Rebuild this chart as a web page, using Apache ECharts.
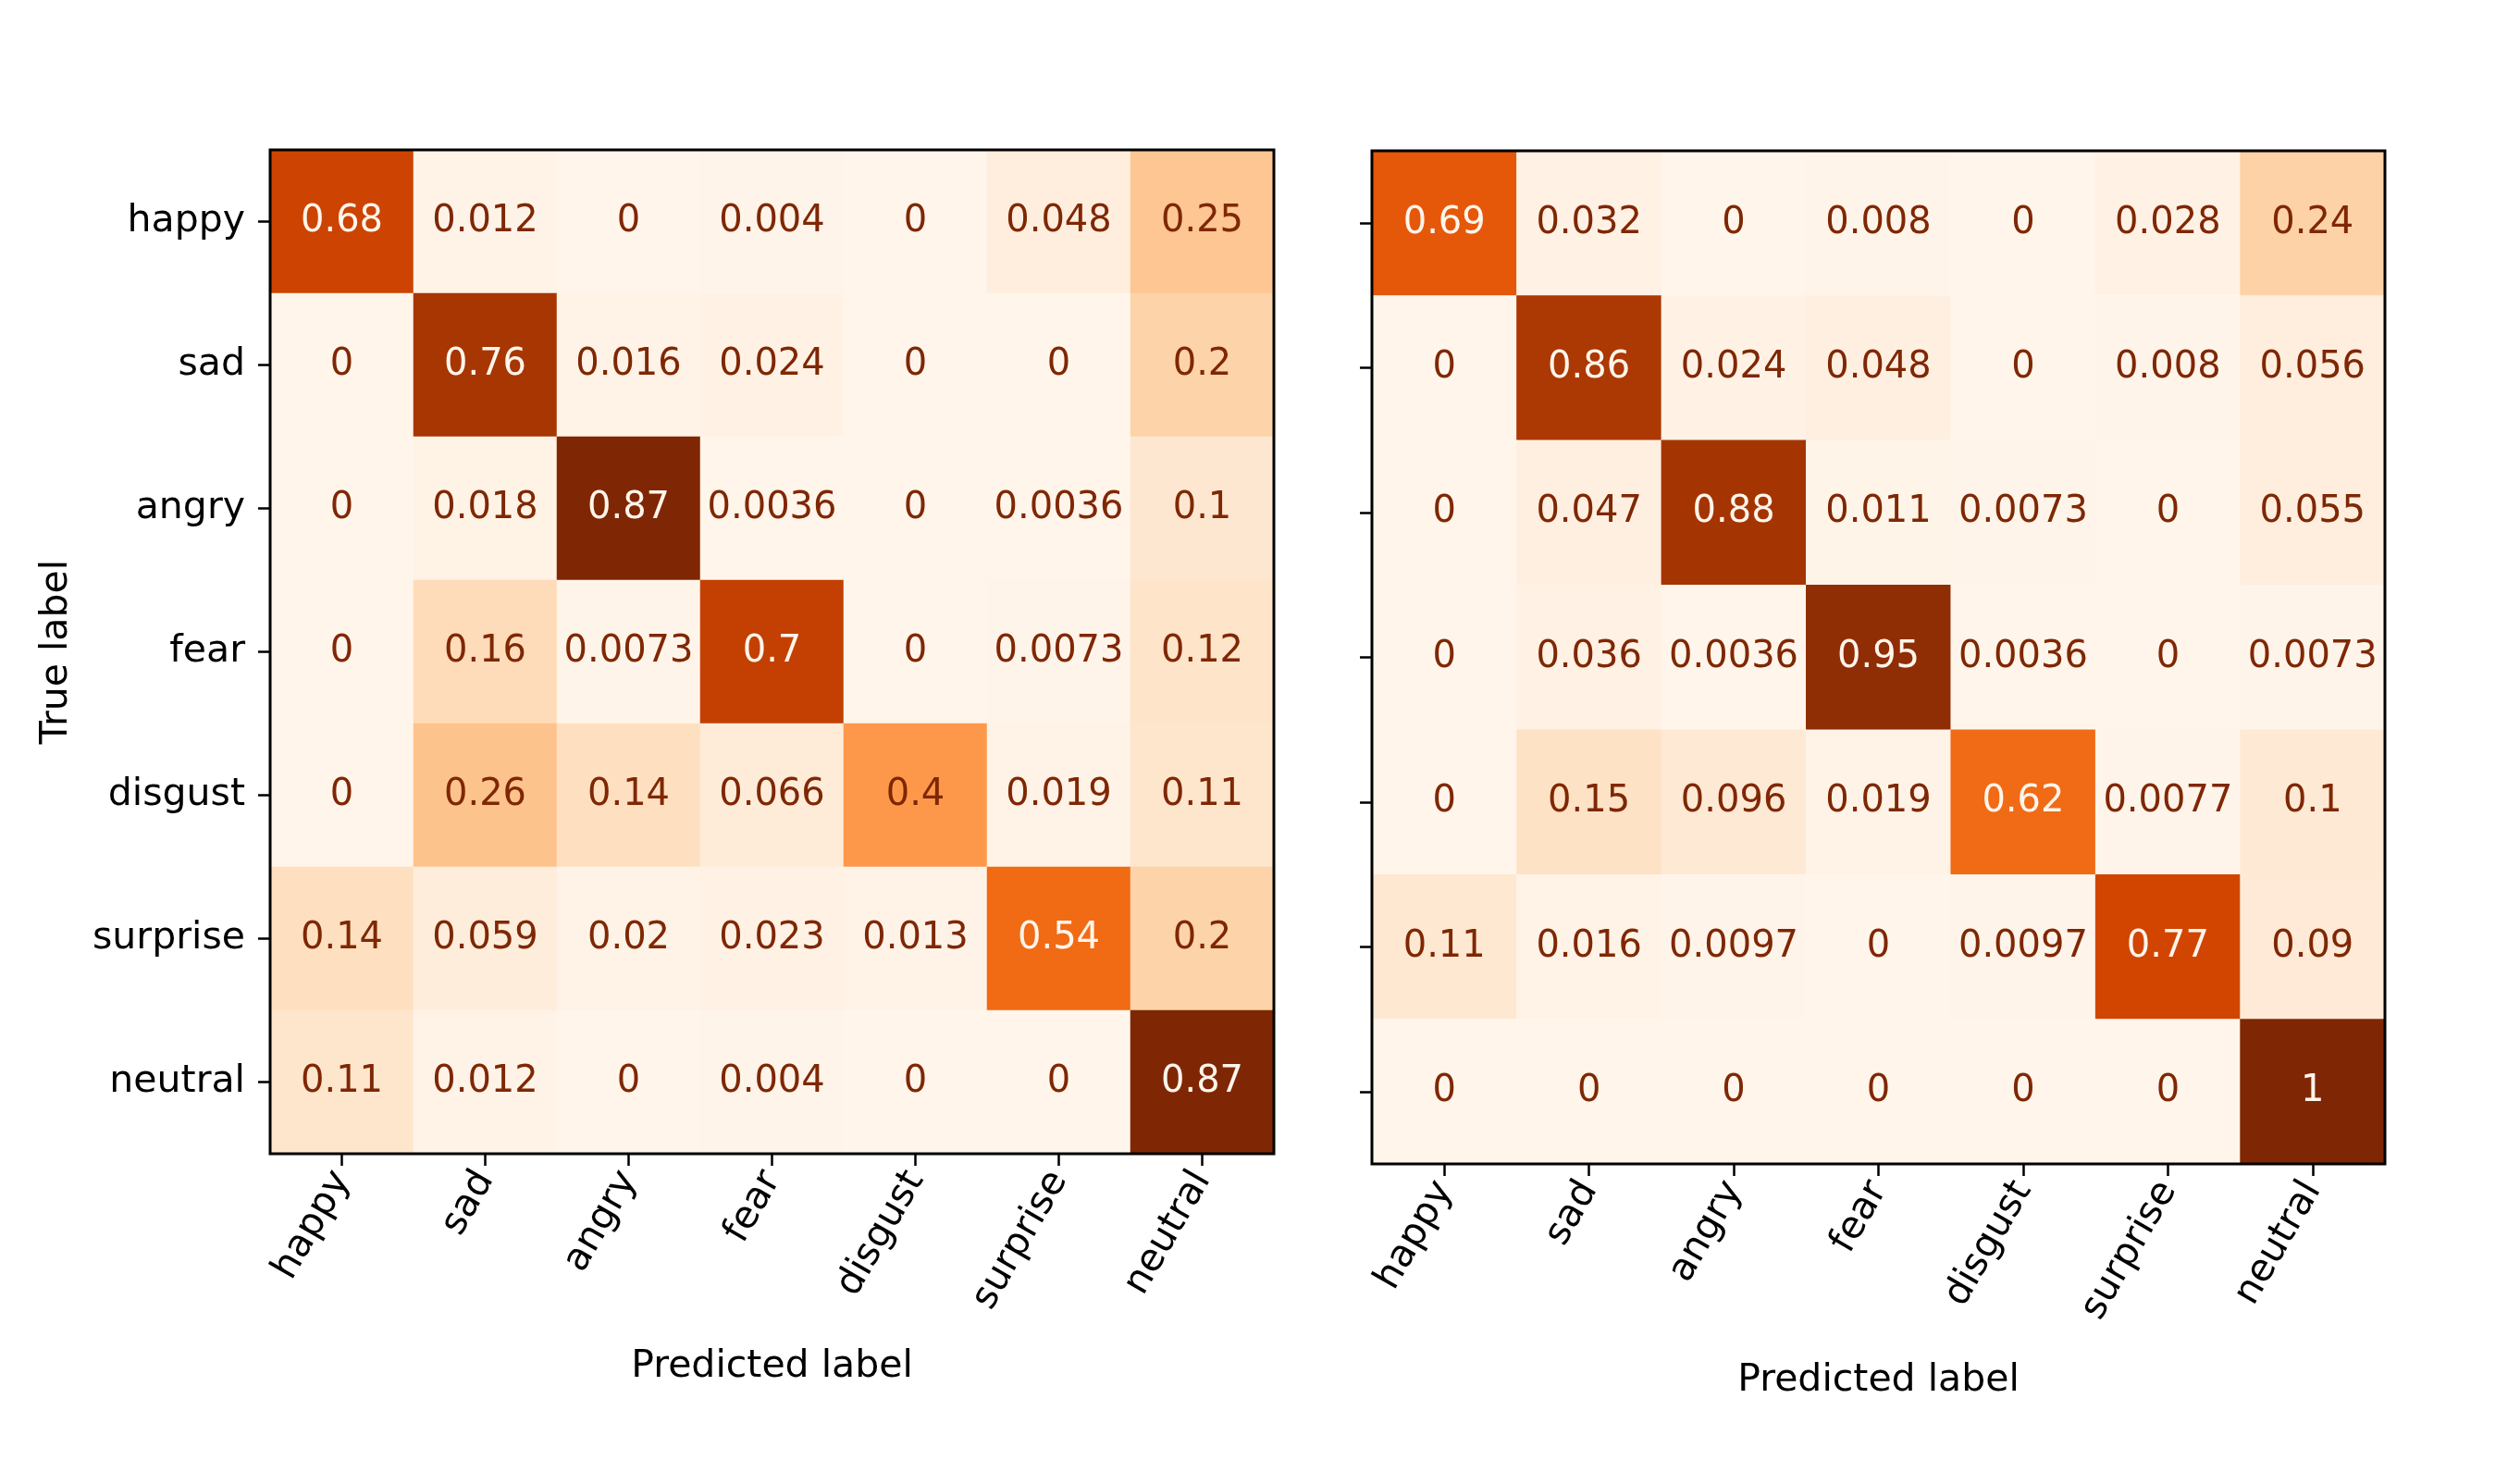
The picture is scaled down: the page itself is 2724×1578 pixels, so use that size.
<!DOCTYPE html>
<html><head><meta charset="utf-8">
<script src="https://cdn.jsdelivr.net/npm/echarts@6/dist/echarts.min.js"></script>
<style>html,body{margin:0;padding:0;background:#fff}#c{width:2724px;height:1578px}</style>
</head><body><div id="c"></div>
<script>
const categories = ['happy','sad','angry','fear','disgust','surprise','neutral'];
const leftMatrix = [
  [0.68, 0.012, 0, 0.004, 0, 0.048, 0.25],
  [0, 0.76, 0.016, 0.024, 0, 0, 0.2],
  [0, 0.018, 0.87, 0.0036, 0, 0.0036, 0.1],
  [0, 0.16, 0.0073, 0.7, 0, 0.0073, 0.12],
  [0, 0.26, 0.14, 0.066, 0.4, 0.019, 0.11],
  [0.14, 0.059, 0.02, 0.023, 0.013, 0.54, 0.2],
  [0.11, 0.012, 0, 0.004, 0, 0, 0.87]
];
const rightMatrix = [
  [0.69, 0.032, 0, 0.008, 0, 0.028, 0.24],
  [0, 0.86, 0.024, 0.048, 0, 0.008, 0.056],
  [0, 0.047, 0.88, 0.011, 0.0073, 0, 0.055],
  [0, 0.036, 0.0036, 0.95, 0.0036, 0, 0.0073],
  [0, 0.15, 0.096, 0.019, 0.62, 0.0077, 0.1],
  [0.11, 0.016, 0.0097, 0, 0.0097, 0.77, 0.09],
  [0, 0, 0, 0, 0, 0, 1]
];
const xTitle = 'Predicted label';
const yTitle = 'True label';

const oranges = ['#fff5eb','#fee6ce','#fdd0a2','#fdae6b','#fd8d3c','#f16913','#d94801','#a63603','#7f2704'];
const FONT = 'DejaVu Sans';
const FS = 41;
const CFS = 40;

function build(m){
  const flat = m.flat();
  const mn = Math.min(...flat), mx = Math.max(...flat);
  const thr = (mn+mx)/2;
  const data = [];
  m.forEach((row,i)=>row.forEach((v,j)=>{
    data.push({value:[j,i,v], label:{color: v < thr ? oranges[8] : oranges[0]}});
  }));
  return {data, mn, mx};
}
const L = build(leftMatrix), R = build(rightMatrix);
function fmt(v){ return String(parseFloat(v.toPrecision(2))); }

function xAx(gi, gap){
  return {type:'category', gridIndex:gi, data:categories, boundaryGap:true,
    axisLine:{show:false}, axisTick:{show:true, alignWithLabel:true, length:13, lineStyle:{color:'#000',width:2.5}},
    axisLabel:{rotate:60, fontSize:FS, fontFamily:FONT, color:'#000', margin:22},
    splitLine:{show:false},
    name:xTitle, nameLocation:'middle', nameGap:gap, nameTextStyle:{fontSize:FS, fontFamily:FONT, color:'#000'}};
}
function yAx(gi, showLabels){
  return {type:'category', gridIndex:gi, data:categories, inverse:true, boundaryGap:true,
    axisLine:{show:false}, axisTick:{show:true, alignWithLabel:true, length:13, lineStyle:{color:'#000',width:2.5}},
    axisLabel:{show:showLabels, fontSize:FS, fontFamily:FONT, color:'#000', margin:27},
    splitLine:{show:false},
    name: showLabels ? yTitle : '', nameLocation:'middle', nameGap:210, nameRotate:90,
    nameTextStyle:{fontSize:FS, fontFamily:FONT, color:'#000'}};
}
function series(idx, D){
  return {type:'heatmap', xAxisIndex:idx, yAxisIndex:idx, data:D.data,
    label:{show:true, fontSize:CFS, fontFamily:FONT, formatter:p=>fmt(p.value[2])},
    itemStyle:{borderWidth:0}, emphasis:{disabled:true}};
}
const chart = echarts.init(document.getElementById('c'), null, {renderer:'canvas'});
chart.setOption({
  backgroundColor:'#fff',
  animation:false,
  grid:[
    {left:292, top:162, width:1085, height:1085, show:true, z:10, backgroundColor:'transparent', borderColor:'#000', borderWidth:3},
    {left:1483, top:163, width:1095, height:1095, show:true, z:10, backgroundColor:'transparent', borderColor:'#000', borderWidth:3}
  ],
  xAxis:[xAx(0,210), xAx(1,214)],
  yAxis:[yAx(0,true), yAx(1,false)],
  visualMap:[
    {show:false, seriesIndex:0, dimension:2, min:L.mn, max:L.mx, inRange:{color:oranges}},
    {show:false, seriesIndex:1, dimension:2, min:R.mn, max:R.mx, inRange:{color:oranges}}
  ],
  series:[series(0,L), series(1,R)]
});
</script></body></html>
